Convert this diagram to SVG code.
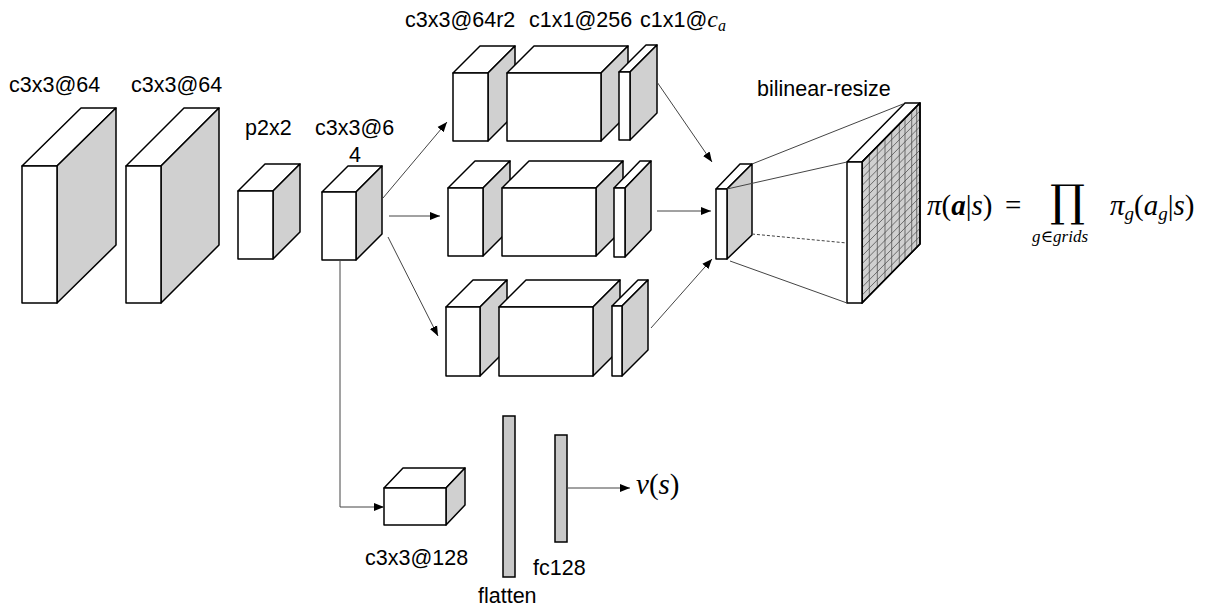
<svg xmlns="http://www.w3.org/2000/svg" width="1212" height="612" viewBox="0 0 1212 612">
  <style>
    .front { fill: #ffffff; stroke: #000000; stroke-width: 1.5; stroke-linejoin: round; }
    .side { fill: #d0d0d0; stroke: #000000; stroke-width: 1.5; stroke-linejoin: round; }
    .bar { fill: #c8c8c8; stroke: #000000; stroke-width: 1.5; }
    .grid { stroke: #4a4a4a; stroke-width: 0.75; fill: none; }
    .lbl { font-family: "Liberation Sans", Arial, sans-serif; font-size: 21.5px; fill: #000000; }
    .math { font-family: "Liberation Serif", "DejaVu Serif", serif; font-style: italic; fill: #000000; }
    .up { font-style: normal; }
    .conn { stroke: #444444; stroke-width: 1; fill: none; }
  </style>
  <defs>
    <marker id="arrow" viewBox="0 0 10 10" refX="10" refY="5" markerWidth="10" markerHeight="10" markerUnits="userSpaceOnUse" orient="auto">
      <path d="M0,1 L10,5 L0,9 Z" fill="#000000"/>
    </marker>
  </defs>

  <rect width="1212" height="612" fill="#ffffff"/>

  <!-- conv 1 -->
  <g id="conv1">
    <polygon class="front" points="22,166 81,108 116,108 57,166"/>
    <polygon class="side" points="57,166 116,108 116,245 57,303"/>
    <rect class="front" x="22" y="166" width="35" height="137"/>
    <text class="lbl" x="9" y="92">c3x3@64</text>
  </g>

  <!-- conv 2 -->
  <g id="conv2">
    <polygon class="front" points="126,166 184,108 219,108 161,166"/>
    <polygon class="side" points="161,166 219,108 219,245 161,303"/>
    <rect class="front" x="126" y="166" width="35" height="137"/>
    <text class="lbl" x="131" y="92">c3x3@64</text>
  </g>

  <!-- pooling -->
  <g id="pool">
    <polygon class="front" points="238,191 265,164 300,164 273,191"/>
    <polygon class="side" points="273,191 300,164 300,232 273,259"/>
    <rect class="front" x="238" y="191" width="35" height="68"/>
    <text class="lbl" x="245" y="135">p2x2</text>
  </g>

  <!-- conv 3 -->
  <g id="conv3">
    <polygon class="front" points="322,192 348,166 382,166 356,192"/>
    <polygon class="side" points="356,192 382,166 382,234 356,260"/>
    <rect class="front" x="322" y="192" width="34" height="68"/>
    <text class="lbl" x="315" y="135">c3x3@6</text>
    <text class="lbl" x="349" y="162">4</text>
  </g>

  <!-- branch 1 (top) -->
  <g id="branch1">
    <polygon class="front" points="453,73 480,46 515,46 488,73"/>
    <polygon class="side" points="488,73 515,46 515,114 488,141"/>
    <rect class="front" x="453" y="73" width="35" height="68"/>
    <polygon class="front" points="507,73 534,46 628,46 601,73"/>
    <polygon class="side" points="601,73 628,46 628,114 601,141"/>
    <rect class="front" x="507" y="73" width="94" height="68"/>
    <polygon class="front" points="619,72 646,45 657,45 630,72"/>
    <polygon class="side" points="630,72 657,45 657,113 630,140"/>
    <rect class="front" x="619" y="72" width="11" height="68"/>
  </g>

  <!-- branch 2 (middle) -->
  <g id="branch2">
    <polygon class="front" points="448,188 475,161 510,161 483,188"/>
    <polygon class="side" points="483,188 510,161 510,229 483,256"/>
    <rect class="front" x="448" y="188" width="35" height="68"/>
    <polygon class="front" points="502,188 529,161 623,161 596,188"/>
    <polygon class="side" points="596,188 623,161 623,229 596,256"/>
    <rect class="front" x="502" y="188" width="94" height="68"/>
    <polygon class="front" points="614,188 640,161 651,161 625,188"/>
    <polygon class="side" points="625,188 651,161 651,230 625,257"/>
    <rect class="front" x="614" y="188" width="11" height="69"/>
  </g>

  <!-- branch 3 (bottom) -->
  <g id="branch3">
    <polygon class="front" points="446,307 473,280 507,280 480,307"/>
    <polygon class="side" points="480,307 507,280 507,349 480,376"/>
    <rect class="front" x="446" y="307" width="34" height="69"/>
    <polygon class="front" points="499,307 526,280 620,280 593,307"/>
    <polygon class="side" points="593,307 620,280 620,349 593,376"/>
    <rect class="front" x="499" y="307" width="94" height="69"/>
    <polygon class="front" points="612,306 638,280 648,280 622,306"/>
    <polygon class="side" points="622,306 648,280 648,350 622,376"/>
    <rect class="front" x="612" y="306" width="10" height="70"/>
  </g>

  <!-- branch labels -->
  <g id="branch-labels">
    <text class="lbl" x="405" y="27">c3x3@64r2</text>
    <text class="lbl" x="529" y="27">c1x1@256</text>
    <text class="lbl" x="640" y="27">c1x1@<tspan class="math" font-size="24">c</tspan><tspan class="math" font-size="16" dy="4">a</tspan></text>
  </g>

  <!-- merged map -->
  <g id="merge">
    <polygon class="front" points="716,189 740,164 752,164 727,189"/>
    <polygon class="side" points="727,189 752,164 752,235 727,259"/>
    <rect class="front" x="716" y="189" width="11" height="70"/>
  </g>

  <!-- resized grid map -->
  <g id="grid-map">
    <polygon class="front" points="847,162 905,103 920,103 862,162"/>
    <polygon class="side" points="862,162 920,103 920,244 862,303"/>
    <g class="grid">
      <line x1="869.3" y1="154.9" x2="869.3" y2="295.9"/>
      <line x1="877.3" y1="146.7" x2="877.3" y2="287.7"/>
      <line x1="885" y1="138.9" x2="885" y2="279.9"/>
      <line x1="891.7" y1="132.1" x2="891.7" y2="273.1"/>
      <line x1="899.3" y1="124.3" x2="899.3" y2="265.3"/>
      <line x1="905" y1="118.5" x2="905" y2="259.5"/>
      <line x1="911.7" y1="111.7" x2="911.7" y2="252.7"/>
      <line x1="916.7" y1="106.6" x2="916.7" y2="247.6"/>
      <line x1="862" y1="169.8" x2="920" y2="110.8"/>
      <line x1="862" y1="177.7" x2="920" y2="118.7"/>
      <line x1="862" y1="185.5" x2="920" y2="126.5"/>
      <line x1="862" y1="193.3" x2="920" y2="134.3"/>
      <line x1="862" y1="201.2" x2="920" y2="142.2"/>
      <line x1="862" y1="209" x2="920" y2="150"/>
      <line x1="862" y1="216.8" x2="920" y2="157.8"/>
      <line x1="862" y1="224.7" x2="920" y2="165.7"/>
      <line x1="862" y1="232.5" x2="920" y2="173.5"/>
      <line x1="862" y1="240.3" x2="920" y2="181.3"/>
      <line x1="862" y1="248.2" x2="920" y2="189.2"/>
      <line x1="862" y1="256" x2="920" y2="197"/>
      <line x1="862" y1="263.8" x2="920" y2="204.8"/>
      <line x1="862" y1="271.7" x2="920" y2="212.7"/>
      <line x1="862" y1="279.5" x2="920" y2="220.5"/>
      <line x1="862" y1="287.3" x2="920" y2="228.3"/>
      <line x1="862" y1="295.2" x2="920" y2="236.2"/>
    </g>
    <polygon points="862,162 920,103 920,244 862,303" fill="none" stroke="#000" stroke-width="1.5" stroke-linejoin="round"/>
    <rect class="front" x="847" y="162" width="15" height="141"/>
    <text class="lbl" x="757" y="96">bilinear-resize</text>
  </g>

  <!-- policy formula -->
  <g id="policy">
    <text class="math" x="927" y="215" font-size="29">π<tspan class="up">(</tspan><tspan font-weight="bold">a</tspan><tspan class="up">|</tspan>s<tspan class="up">)</tspan></text>
    <text class="math up" x="1005" y="215" font-size="29">=</text>
    <text class="up" x="1050" y="216" font-size="44" font-family="DejaVu Serif, serif">∏</text>
    <text class="math" x="1032" y="242" font-size="17">g∈grids</text>
    <text class="math" x="1110" y="215" font-size="29">π<tspan font-size="19" dy="5">g</tspan><tspan class="up" dy="-5">(</tspan>a<tspan font-size="19" dy="5">g</tspan><tspan class="up" dy="-5">|</tspan>s<tspan class="up">)</tspan></text>
  </g>

  <!-- value head -->
  <g id="conv4">
    <polygon class="front" points="384,488 403,468 465,468 446,488"/>
    <polygon class="side" points="446,488 465,468 465,505 446,525"/>
    <rect class="front" x="384" y="488" width="62" height="37"/>
    <text class="lbl" x="365" y="565" font-size="19.5">c3x3@128</text>
  </g>
  <g id="flatten">
    <rect class="bar" x="503" y="416" width="12" height="161"/>
    <text class="lbl" x="478" y="603">flatten</text>
  </g>
  <g id="fc">
    <rect class="bar" x="555" y="435" width="12" height="107"/>
    <text class="lbl" x="533" y="575">fc128</text>
  </g>
  <g id="value">
    <text class="math" x="636" y="494" font-size="29">v<tspan class="up">(</tspan>s<tspan class="up">)</tspan></text>
  </g>

  <!-- connectors -->
  <g id="connectors">
    <line class="conn" x1="383" y1="198" x2="447" y2="122" marker-end="url(#arrow)"/>
    <line class="conn" x1="389" y1="216" x2="440" y2="216" marker-end="url(#arrow)"/>
    <line class="conn" x1="388" y1="237" x2="438" y2="336" marker-end="url(#arrow)"/>
    <polyline class="conn" points="340,260 340,507 384,507" marker-end="url(#arrow)"/>
    <line class="conn" x1="657" y1="82" x2="712" y2="162" marker-end="url(#arrow)"/>
    <line class="conn" x1="657" y1="211" x2="711" y2="211" marker-end="url(#arrow)"/>
    <line class="conn" x1="651" y1="328" x2="712" y2="259" marker-end="url(#arrow)"/>
    <line class="conn" x1="752" y1="164" x2="903" y2="104"/>
    <line class="conn" x1="727" y1="189" x2="847" y2="162"/>
    <line class="conn" x1="752" y1="234" x2="847" y2="243" stroke-dasharray="3,2"/>
    <line class="conn" x1="730" y1="261" x2="847" y2="303"/>
    <line class="conn" x1="567" y1="488" x2="630" y2="488" marker-end="url(#arrow)"/>
  </g>
</svg>
